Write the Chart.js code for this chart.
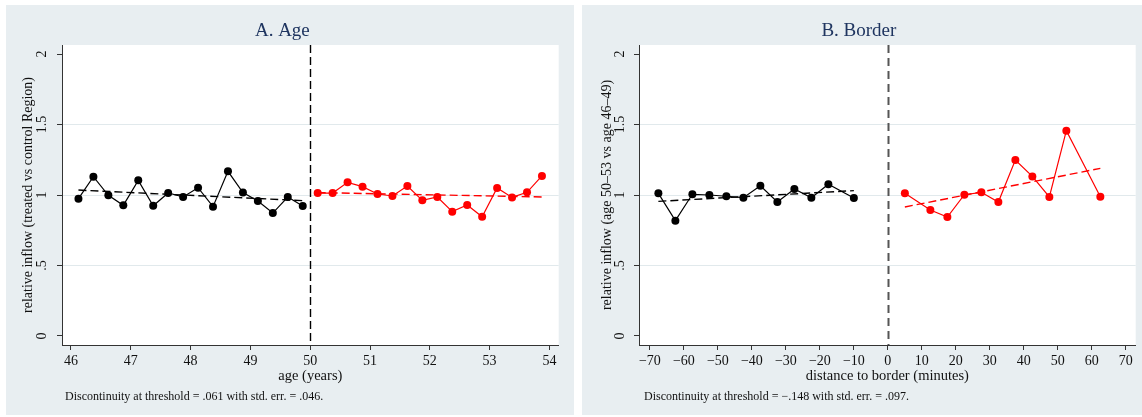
<!DOCTYPE html>
<html>
<head>
<meta charset="utf-8">
<script src="https://cdn.jsdelivr.net/npm/chart.js@4.4.1/dist/chart.umd.min.js"></script>
<style>
  html, body { margin: 0; padding: 0; background: #fff; }
  body { width: 1142px; height: 417px; position: relative; overflow: hidden; font-family: 'Liberation Serif', 'Times New Roman', serif; }
  .panel { position: absolute; top: 5px; height: 410px; background: #e8eef1; }
  .panel canvas { position: absolute; left: 0; top: 0; }
  .note { position: absolute; font-size: 12px; color: #111; white-space: nowrap; }
</style>
</head>
<body>
<div class="panel" style="left:6px;width:568px">
  <canvas id="ageChart" width="568" height="410"></canvas>
  <div class="note" style="left:59px;top:384px">Discontinuity at threshold = .061 with std. err. = .046.</div>
</div>
<div class="panel" style="left:582px;width:560px">
  <canvas id="borderChart" width="560" height="410"></canvas>
  <div class="note" style="left:62px;top:384px">Discontinuity at threshold = &minus;.148 with std. err. = .097.</div>
</div>
<script>
// panel A: age bins (quarter years)
const ageBinsLeft = [46.125, 46.375, 46.625, 46.875, 47.125, 47.375, 47.625, 47.875,
                     48.125, 48.375, 48.625, 48.875, 49.125, 49.375, 49.625, 49.875];
const ageInflowLeft = [0.974, 1.130, 0.998, 0.927, 1.104, 0.924, 1.014, 0.986,
                       1.052, 0.917, 1.168, 1.017, 0.957, 0.872, 0.986, 0.922];
const ageBinsRight = [50.125, 50.375, 50.625, 50.875, 51.125, 51.375, 51.625, 51.875,
                      52.125, 52.375, 52.625, 52.875, 53.125, 53.375, 53.625, 53.875];
const ageInflowRight = [1.014, 1.014, 1.090, 1.059, 1.007, 0.993, 1.064, 0.962,
                        0.986, 0.882, 0.929, 0.846, 1.050, 0.983, 1.019, 1.135];
const ageFitLeftX = [46.125, 49.875];
const ageFitLeftY = [1.035, 0.960];
const ageFitRightX = [50.125, 53.875];
const ageFitRightY = [1.017, 0.986];
const ageThreshold = 50;
const ageTicks = [46, 47, 48, 49, 50, 51, 52, 53, 54];

// panel B: distance to border (minutes)
const borderBinsLeft = [-67.5, -62.5, -57.5, -52.5, -47.5, -42.5, -37.5, -32.5, -27.5, -22.5, -17.5, -10];
const borderInflowLeft = [1.012, 0.818, 1.005, 1.000, 0.991, 0.981, 1.066, 0.950, 1.043, 0.981, 1.076, 0.979];
const borderBinsRight = [5, 12.5, 17.5, 22.5, 27.5, 32.5, 37.5, 42.5, 47.5, 52.5, 62.5];
const borderInflowRight = [1.012, 0.894, 0.844, 1.002, 1.019, 0.950, 1.248, 1.132, 0.986, 1.456, 0.988];
const borderFitLeftX = [-67.5, -10];
const borderFitLeftY = [0.955, 1.031];
const borderFitRightX = [5, 62.5];
const borderFitRightY = [0.915, 1.189];
const borderThreshold = 0;
const borderTicks = [-70, -60, -50, -40, -30, -20, -10, 0, 10, 20, 30, 40, 50, 60, 70];
const borderTickLabels = ['\u221270', '\u221260', '\u221250', '\u221240', '\u221230', '\u221220', '\u221210',
                          '0', '10', '20', '30', '40', '50', '60', '70'];

// shared y axis
const yTicks = [0, 0.5, 1, 1.5, 2];
const yTickLabels = ['0', '.5', '1', '1.5', '2'];

const serif = "'Liberation Serif', 'Times New Roman', serif";
const RED = '#ff0000';
const AXIS = '#333';

function pts(xs, ys) {
  return xs.map((x, i) => ({ x, y: ys[i] }));
}

// white plot region, like Stata's plotregion
const plotBg = {
  id: 'plotBg',
  beforeDraw(chart) {
    const { ctx, chartArea: a } = chart;
    ctx.save();
    ctx.fillStyle = '#fff';
    ctx.fillRect(a.left, a.top, a.right - a.left, a.bottom - a.top);
    ctx.restore();
  }
};

// vertical dashed line at the threshold
const thresholdLine = {
  id: 'thresholdLine',
  beforeDatasetsDraw(chart, args, opts) {
    const { ctx, chartArea, scales } = chart;
    const x = Math.round(scales.x.getPixelForValue(opts.value)) + 0.5;
    ctx.save();
    ctx.strokeStyle = opts.color;
    ctx.lineWidth = opts.width;
    ctx.setLineDash(opts.dash);
    ctx.beginPath();
    ctx.moveTo(x, chartArea.top);
    ctx.lineTo(x, chartArea.bottom);
    ctx.stroke();
    ctx.restore();
  }
};

function makePanel(id, p) {
  const series = (data, color) => ({
    data, showLine: true, borderColor: color, backgroundColor: color,
    borderWidth: 1.2, pointRadius: 4, pointHoverRadius: 4, pointBorderWidth: 0
  });
  const fit = (data, color) => ({
    data, showLine: true, borderColor: color, borderWidth: 1.4,
    borderDash: [8, 4], pointRadius: 0
  });

  return new Chart(document.getElementById(id), {
    type: 'scatter',
    data: {
      datasets: [
        series(pts(p.leftX, p.leftY), '#000'),
        series(pts(p.rightX, p.rightY), RED),
        fit(pts(p.fitLX, p.fitLY), '#000'),
        fit(pts(p.fitRX, p.fitRY), RED)
      ]
    },
    plugins: [plotBg, thresholdLine],
    options: {
      responsive: false,
      animation: false,
      events: [],
      layout: { autoPadding: false, padding: { left: 0, top: 0, right: p.rightPad, bottom: 0 } },
      plugins: {
        legend: { display: false },
        tooltip: { enabled: false },
        title: {
          display: true,
          text: p.title,
          color: '#1f3560',
          font: { family: serif, size: 19, weight: 'normal' },
          padding: { top: 14.6, bottom: 2.6 }
        },
        thresholdLine: { value: p.threshold, color: p.vColor, width: p.vWidth, dash: p.vDash }
      },
      scales: {
        x: {
          type: 'linear',
          min: p.xMin,
          max: p.xMax,
          afterBuildTicks: (s) => { s.ticks = p.xTicks.map((v) => ({ value: v })); },
          afterFit: (s) => { s.height = 70; },
          border: { display: true, color: AXIS, width: 1 },
          grid: { drawOnChartArea: false, drawTicks: true, tickLength: 5, tickColor: AXIS },
          ticks: {
            color: '#111', padding: 3, maxRotation: 0, autoSkip: false,
            font: { family: serif, size: 14 },
            callback: (v, i) => p.xLabels[i]
          },
          title: {
            display: true, text: p.xTitle, color: '#111',
            font: { family: serif, size: 14.5 },
            padding: { top: 0, bottom: 30.3 }
          }
        },
        y: {
          type: 'linear',
          min: -0.064,
          max: 2.064,
          afterBuildTicks: (s) => { s.ticks = yTicks.map((v) => ({ value: v })); },
          afterFit: (s) => { s.width = p.yWidth; },
          border: { display: true, color: AXIS, width: 1 },
          grid: {
            drawTicks: true, tickLength: 5, tickColor: AXIS,
            color: (c) => (c.tick && c.tick.value > 0 && c.tick.value < 2 ? '#e1e9ec' : 'rgba(0,0,0,0)')
          },
          ticks: {
            color: '#111', padding: p.yTickPad, minRotation: 90, maxRotation: 90,
            crossAlign: 'center',
            font: { family: serif, size: 14 },
            callback: (v, i) => yTickLabels[i]
          },
          title: {
            display: true, text: p.yTitle, color: '#111',
            font: { family: serif, size: 14 },
            padding: { top: p.yTitlePad, bottom: 0 }
          }
        }
      }
    }
  });
}

makePanel('ageChart', {
  title: 'A. Age',
  leftX: ageBinsLeft, leftY: ageInflowLeft,
  rightX: ageBinsRight, rightY: ageInflowRight,
  fitLX: ageFitLeftX, fitLY: ageFitLeftY,
  fitRX: ageFitRightX, fitRY: ageFitRightY,
  threshold: ageThreshold, vColor: '#000', vWidth: 1.4, vDash: [8, 4],
  xMin: 45.85, xMax: 54.155, xTicks: ageTicks, xLabels: ageTicks.map(String),
  xTitle: 'age (years)',
  yTitle: 'relative inflow (treated vs control Region)',
  yWidth: 56, rightPad: 15.3, yTickPad: 6, yTitlePad: 14
});

makePanel('borderChart', {
  title: 'B. Border',
  leftX: borderBinsLeft, leftY: borderInflowLeft,
  rightX: borderBinsRight, rightY: borderInflowRight,
  fitLX: borderFitLeftX, fitLY: borderFitLeftY,
  fitRX: borderFitRightX, fitRY: borderFitRightY,
  threshold: borderThreshold, vColor: '#555', vWidth: 2, vDash: [8, 5],
  xMin: -73.2, xMax: 72.9, xTicks: borderTicks, xLabels: borderTickLabels,
  xTitle: 'distance to border (minutes)',
  yTitle: 'relative inflow (age 50\u201353 vs age 46\u201349)',
  yWidth: 57, rightPad: 6.3, yTickPad: 5, yTitlePad: 17
});
</script>
</body>
</html>
